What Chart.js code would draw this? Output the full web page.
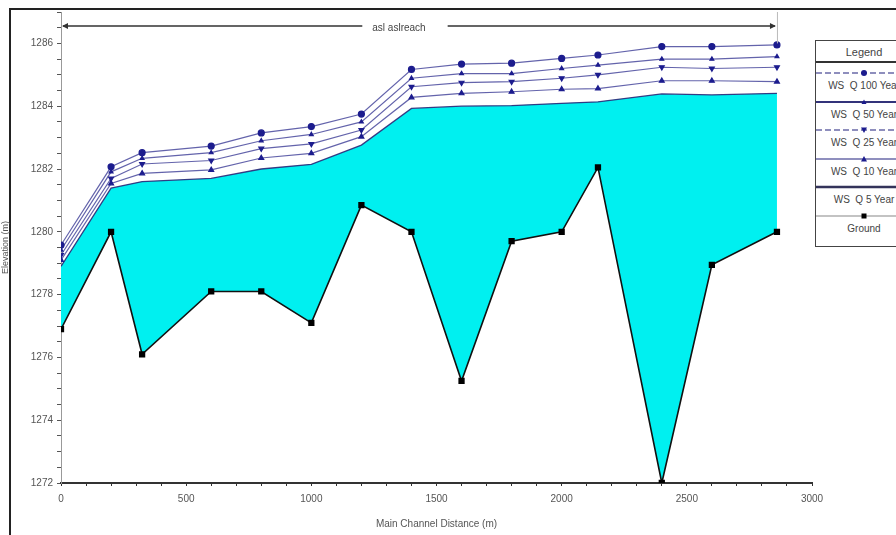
<!DOCTYPE html>
<html>
<head>
<meta charset="utf-8">
<script src="https://cdn.jsdelivr.net/npm/chart.js@4.4.1/dist/chart.umd.min.js"></script>
<style>
  html, body { margin: 0; padding: 0; background: #fff; overflow: hidden; }
  #wrap { position: relative; width: 896px; height: 535px; }
  #frame { position: absolute; left: 9px; top: 8px; width: 900px; height: 540px;
           border-left: 2px solid #222; border-top: 2px solid #222; }
  #chart { position: absolute; left: 0; top: 0; }
  #legend { position: absolute; left: 815px; top: 40px; width: 96px; height: 205px;
            border: 1.5px solid #444; background: #fff;
            font-family: "Liberation Sans", Arial, sans-serif; font-size: 10px; color: #444; }
  #legend .head { position: absolute; left: 0; top: 0; width: 100%; height: 20px;
                  border-bottom: 2px solid #333; text-align: center; line-height: 22px; font-size: 11px; }
  #legend .lab { position: absolute; left: 0; width: 100%; text-align: center; white-space: pre; }
  #legend svg { position: absolute; left: 0; }
</style>
</head>
<body>
<div id="wrap">
  <div id="frame"></div>
  <canvas id="chart" width="896" height="535"></canvas>
  <div id="legend"><div class="head">Legend</div></div>
</div>
<script>
// stations along the main channel (m)
const stations = [0, 200, 324, 600, 800, 1000, 1200, 1400, 1600, 1800, 2000, 2145, 2400, 2600, 2860];

// water surface elevations (m)
const wsQ100 = [1279.58, 1282.07, 1282.52, 1282.73, 1283.15, 1283.35, 1283.75, 1285.17, 1285.34, 1285.37, 1285.52, 1285.63, 1285.9, 1285.9, 1285.95];
const wsQ50 = [1279.42, 1281.91, 1282.34, 1282.52, 1282.9, 1283.1, 1283.5, 1284.89, 1285.04, 1285.04, 1285.2, 1285.31, 1285.5, 1285.5, 1285.58];
const wsQ25 = [1279.26, 1281.7, 1282.16, 1282.27, 1282.65, 1282.8, 1283.24, 1284.62, 1284.75, 1284.78, 1284.89, 1285.0, 1285.24, 1285.2, 1285.24];
const wsQ10 = [1279.1, 1281.54, 1281.86, 1281.97, 1282.35, 1282.5, 1283.03, 1284.28, 1284.41, 1284.46, 1284.54, 1284.56, 1284.81, 1284.81, 1284.78];
const wsQ5 = [1278.9, 1281.39, 1281.6, 1281.7, 1282.0, 1282.15, 1282.76, 1283.93, 1284.0, 1284.02, 1284.09, 1284.14, 1284.39, 1284.36, 1284.41];
const ground = [1276.9, 1280.0, 1276.1, 1278.1, 1278.1, 1277.1, 1280.85, 1280.0, 1275.25, 1279.7, 1280.0, 1282.05, 1272.0, 1278.95, 1280.0];

const seriesNames = ["WS  Q 100 Year", "WS  Q 50 Year", "WS  Q 25 Year", "WS  Q 10 Year", "WS  Q 5 Year", "Ground"];
const reachName = "asl aslreach";

const yTitle = "Elevation (m)";
const xTitle = "Main Channel Distance (m)";
const yMin = 1272, yMax = 1287, yStep = 0.5, yLabelStep = 2;
const xMin = 0, xMax = 3000, xStep = 100, xLabelStep = 500;

const FONT = "'Liberation Sans', Arial, sans-serif";
const WS_LINE = "rgba(60,60,150,0.8)";
const WS_MARK = "#1c1c8e";
const CYAN = "#00f0f0";

function pts(vals) {
  return stations.map((s, i) => ({ x: s, y: vals[i] }));
}

function wsSet(label, vals, style, radius, rotation) {
  return {
    label: label,
    data: pts(vals),
    borderColor: WS_LINE,
    borderWidth: 1.2,
    pointStyle: style,
    pointRadius: radius,
    pointRotation: rotation || 0,
    pointBackgroundColor: WS_MARK,
    pointBorderColor: WS_MARK,
    fill: false,
  };
}

const reachPlugin = {
  id: "reach",
  afterDatasetsDraw(chart) {
    const { ctx, chartArea } = chart;
    const xs = chart.scales.x;
    const x0 = xs.getPixelForValue(stations[0]);
    const x1 = xs.getPixelForValue(stations[stations.length - 1]);
    const y = chartArea.top + 14;
    ctx.save();
    ctx.font = "10px " + FONT;
    ctx.fillStyle = "#444";
    ctx.textAlign = "center";
    ctx.textBaseline = "middle";
    const mid = (x0 + x1) / 2 - 20;
    const tw = ctx.measureText(reachName).width;
    ctx.fillText(reachName, mid, y + 2);
    // faint end marker at the last station
    ctx.strokeStyle = "#bbb";
    ctx.lineWidth = 1;
    ctx.beginPath();
    ctx.moveTo(x1 + 0.5, chartArea.top);
    ctx.lineTo(x1 + 0.5, chart.scales.y.getPixelForValue(1286));
    ctx.stroke();
    // reach line with arrow heads
    ctx.strokeStyle = "#333";
    ctx.lineWidth = 1.5;
    ctx.beginPath();
    ctx.moveTo(x0 + 2, y);
    ctx.lineTo(mid - tw / 2 - 10, y);
    ctx.moveTo(mid + tw / 2 + 22, y);
    ctx.lineTo(x1 - 2, y);
    ctx.stroke();
    ctx.fillStyle = "#333";
    ctx.beginPath();
    ctx.moveTo(x0 + 1, y); ctx.lineTo(x0 + 7, y - 3); ctx.lineTo(x0 + 7, y + 3); ctx.closePath();
    ctx.moveTo(x1 - 1, y); ctx.lineTo(x1 - 7, y - 3); ctx.lineTo(x1 - 7, y + 3); ctx.closePath();
    ctx.fill();
    ctx.restore();
  },
};

new Chart(document.getElementById("chart"), {
  type: "line",
  data: {
    datasets: [
      wsSet(seriesNames[0], wsQ100, "circle", 3),
      wsSet(seriesNames[1], wsQ50, "triangle", 2.2),
      wsSet(seriesNames[2], wsQ25, "triangle", 2.8, 180),
      wsSet(seriesNames[3], wsQ10, "triangle", 2.8),
      {
        label: seriesNames[4],
        data: pts(wsQ5),
        borderColor: "rgba(40,40,120,0.9)",
        borderWidth: 1.3,
        pointRadius: 0,
        backgroundColor: CYAN,
        fill: "+1",
      },
      {
        label: seriesNames[5],
        data: pts(ground),
        borderColor: "#111",
        borderWidth: 1.6,
        pointStyle: "rect",
        pointRadius: 3.3,
        pointBackgroundColor: "#000",
        pointBorderColor: "#000",
        fill: false,
      },
    ],
  },
  options: {
    responsive: false,
    animation: false,
    elements: { line: { tension: 0 } },
    layout: { padding: { left: 0, right: 84, top: 12, bottom: 0 } },
    plugins: {
      legend: { display: false },
      tooltip: { enabled: false },
      filler: { drawTime: "beforeDatasetsDraw" },
    },
    scales: {
      x: {
        type: "linear",
        min: xMin,
        max: xMax,
        afterFit: (s) => { s.height = 52; },
        border: { color: "#333", width: 2 },
        grid: { drawOnChartArea: false, tickLength: 3, color: "#333", lineWidth: 1 },
        ticks: {
          stepSize: xStep,
          autoSkip: false,
          maxRotation: 0,
          padding: 7,
          color: "#555",
          font: { family: FONT, size: 10 },
          callback: (v) => (v % xLabelStep === 0 ? String(v) : ""),
        },
        title: {
          display: true,
          text: xTitle,
          color: "#555",
          font: { family: FONT, size: 10 },
          padding: { top: 2, bottom: 5 },
        },
      },
      y: {
        type: "linear",
        min: yMin,
        max: yMax,
        afterFit: (s) => { s.width = 61; },
        border: { color: "#999", width: 1, dash: [2, 2] },
        grid: { drawOnChartArea: false, tickLength: 4, color: "#555", lineWidth: 1 },
        ticks: {
          stepSize: yStep,
          includeBounds: false,
          autoSkip: false,
          padding: 4,
          color: "#555",
          font: { family: FONT, size: 10 },
          callback: (v) => (v % yLabelStep === 0 ? String(v) : ""),
        },
        title: {
          display: true,
          text: yTitle,
          color: "#555",
          font: { family: FONT, size: 9 },
          padding: { top: 0, bottom: 2 },
        },
      },
    },
  },
  plugins: [reachPlugin],
});

// boxed legend, one line sample and label per series
const legendMarks = ["circle", "tri-up-small", "tri-down", "tri-up", "none", "square"];
const legendLines = [
  'stroke="#6a6aa8" stroke-width="1.5" stroke-dasharray="6 3"',
  'stroke="#33337a" stroke-width="2"',
  'stroke="#6a6aa8" stroke-width="1.5" stroke-dasharray="6 3"',
  'stroke="#6a6aa8" stroke-width="1.5"',
  'stroke="#33335a" stroke-width="2.5"',
  'stroke="#888" stroke-width="1.2"',
];

function markSvg(kind) {
  const c = 48, m = 6;
  switch (kind) {
    case "circle":
      return '<circle cx="' + c + '" cy="' + m + '" r="3" fill="' + WS_MARK + '"/>';
    case "tri-up-small":
      return '<polygon points="' + (c - 2.5) + ',' + (m + 2) + ' ' + (c + 2.5) + ',' + (m + 2) + ' ' + c + ',' + (m - 2.5) + '" fill="' + WS_MARK + '"/>';
    case "tri-down":
      return '<polygon points="' + (c - 3) + ',' + (m - 2.5) + ' ' + (c + 3) + ',' + (m - 2.5) + ' ' + c + ',' + (m + 3) + '" fill="' + WS_MARK + '"/>';
    case "tri-up":
      return '<polygon points="' + (c - 3) + ',' + (m + 2.5) + ' ' + (c + 3) + ',' + (m + 2.5) + ' ' + c + ',' + (m - 3) + '" fill="' + WS_MARK + '"/>';
    case "square":
      return '<rect x="' + (c - 2.5) + '" y="' + (m - 2.5) + '" width="5" height="5" fill="#000"/>';
    default:
      return "";
  }
}

const legendBox = document.getElementById("legend");
seriesNames.forEach((name, i) => {
  const top = 22 + i * 28.6;
  const svg = document.createElementNS("http://www.w3.org/2000/svg", "svg");
  svg.setAttribute("width", "96");
  svg.setAttribute("height", "12");
  svg.style.top = (top + 4) + "px";
  svg.innerHTML = '<line x1="0" y1="6" x2="96" y2="6" ' + legendLines[i] + "/>" + markSvg(legendMarks[i]);
  legendBox.appendChild(svg);
  const lab = document.createElement("div");
  lab.className = "lab";
  lab.style.top = (top + 17) + "px";
  lab.textContent = name;
  legendBox.appendChild(lab);
});
</script>
</body>
</html>
